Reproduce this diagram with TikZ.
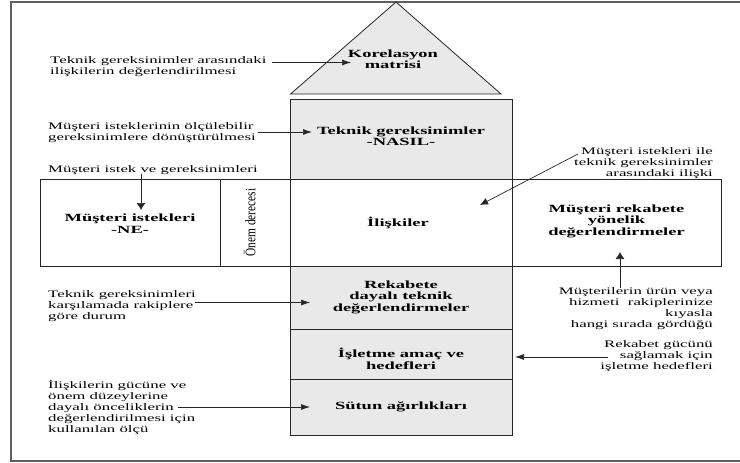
\documentclass[tikz,border=0pt]{standalone}
\usepackage{fontspec}
\setmainfont[FakeStretch=1.68]{Liberation Serif}
\newfontfamily\vertfont[FakeStretch=0.78]{Liberation Serif}
\usetikzlibrary{arrows.meta}
\definecolor{boxfill}{RGB}{233,233,233}
\definecolor{frameclr}{RGB}{95,95,95}
\tikzset{
  box/.style={draw=black!85, line width=0.8pt, fill=boxfill, inner sep=0pt},
  wbox/.style={box, fill=white},
  btxt/.style={font=\bfseries\fontsize{11}{11.5}\selectfont, align=center, inner sep=0pt},
  lbl/.style={font=\fontsize{10}{11}\selectfont, inner sep=0pt},
  lbll/.style={lbl, align=left, anchor=west},
  lblr/.style={lbl, align=right, anchor=east},
  harr/.style={-{Latex[length=9pt,width=6pt]}, line width=0.7pt, draw=black!85},
  varr/.style={-{Latex[length=7pt,width=9pt]}, line width=0.7pt, draw=black!85},
  darr/.style={-{Latex[length=8pt,width=7pt]}, line width=0.7pt, draw=black!85},
  frame/.style={draw=frameclr, line width=1.2pt}
}
\begin{document}
\begin{tikzpicture}[x=1pt,y=-1pt]
\useasboundingbox (0,0) rectangle (740,463);
% outer frame (cut at the right)
\draw[frame] (741,2) -- (11,2) -- (11,461) -- (741,461);

% roof
\draw[box] (290.5,94) -- (396,2) -- (501,94) -- cycle;
\node[btxt] (kor) at (393,59) {Korelasyon\\matrisi};

% column and row boxes
\node[box, minimum width=222pt, minimum height=80pt] (teknik) at (401,139) {};
\node[wbox, minimum width=180pt, minimum height=87pt] (ne) at (130,222.5) {};
\node[wbox, minimum width=70pt, minimum height=87pt] (onem) at (255,222.5) {};
\node[wbox, minimum width=222pt, minimum height=87pt] (iliski) at (401,222.5) {};
\node[wbox, minimum width=209pt, minimum height=87pt] (rekyon) at (616.5,222.5) {};
\node[box, minimum width=222pt, minimum height=63pt] (rekdal) at (401,297.5) {};
\node[box, minimum width=222pt, minimum height=50pt] (islet) at (401,354) {};
\node[box, minimum width=222pt, minimum height=56pt] (sutun) at (401,407) {};

% box texts
\node[btxt] (tekt) at (401,136) {Teknik gereksinimler\\-NASIL-};
\node[btxt] (net) at (130,223.5) {Müşteri istekleri\\-NE-};
\node[inner sep=0pt, rotate=90, font=\vertfont\fontsize{14.5}{14.5}\selectfont] (onemt) at (249.5,222.5) {Önem derecesi};
\node[btxt] (ilit) at (398,223) {İlişkiler};
\node[btxt] (rekyt) at (616.5,221) {Müşteri rekabete\\yönelik\\değerlendirmeler};
\node[btxt] (rekdt) at (401,297) {Rekabete\\dayalı teknik\\değerlendirmeler};
\node[btxt] (islt) at (401,359) {İşletme amaç ve\\hedefleri};
\node[btxt] (sutt) at (401,407) {Sütun ağırlıkları};

% side labels
\node[lbll] (t1) at (50,66.5) {Teknik gereksinimler arasındaki\\ilişkilerin değerlendirilmesi};
\node[lbll] (t2) at (48,133) {Müşteri isteklerinin ölçülebilir\\gereksinimlere dönüştürülmesi};
\node[lbll] (t3) at (48,170) {Müşteri istek ve gereksinimleri};
\node[lblr] (t4) at (713,163) {Müşteri istekleri ile\\teknik gereksinimler\\arasındaki ilişki};
\node[lblr] (t5) at (713,309) {Müşterilerin ürün veya\\hizmeti\ \ rakiplerinize\\kıyasla\\hangi sırada gördüğü};
\node[lblr] (t6) at (713,356) {Rekabet gücünü\\sağlamak için\\işletme hedefleri};
\node[lbll] (t7) at (48,306) {Teknik gereksinimleri\\karşılamada rakiplere\\göre durum};
\node[lbll] (t8) at (48,407) {İlişkilerin gücüne ve\\önem düzeylerine\\dayalı önceliklerin\\değerlendirilmesi için\\kullanılan ölçü};

% arrow end points
\coordinate (a1s) at (272,62.5);  \coordinate (a1e) at (351,62.5);
\coordinate (a2s) at (258,132);   \coordinate (a2e) at (312,132);
\coordinate (a3s) at (141,174);   \coordinate (a3e) at (141,210);
\coordinate (a4s) at (578,154);   \coordinate (a4e) at (480,205);
\coordinate (a5s) at (620,288);   \coordinate (a5e) at (620,252);
\coordinate (a6s) at (608,357);   \coordinate (a6e) at (515,357);
\coordinate (a7s) at (195,302.5); \coordinate (a7e) at (310,302.5);
\coordinate (a8s) at (178,407);   \coordinate (a8e) at (310,407);

\draw[harr] (a1s) -- (a1e);
\draw[harr] (a2s) -- (a2e);
\draw[varr] (a3s) -- (a3e);
\draw[darr] (a4s) -- (a4e);
\draw[varr] (a5s) -- (a5e);
\draw[harr] (a6s) -- (a6e);
\draw[harr] (a7s) -- (a7e);
\draw[harr] (a8s) -- (a8e);
\end{tikzpicture}
\end{document}
